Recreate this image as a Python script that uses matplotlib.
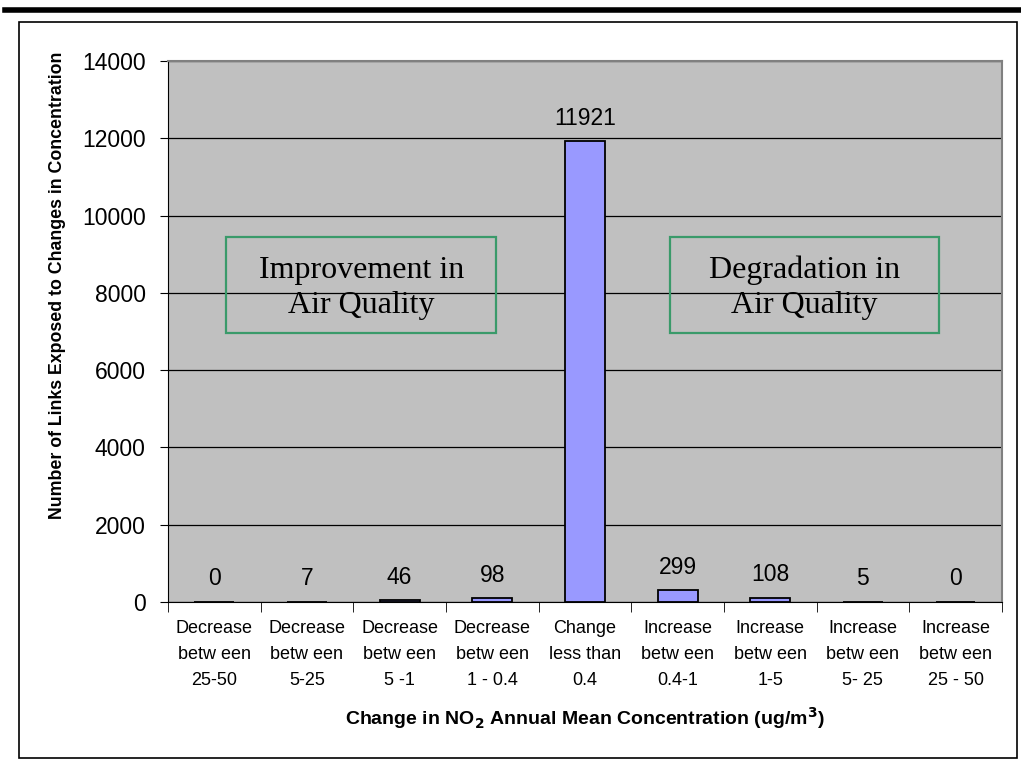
import matplotlib.pyplot as plt
from matplotlib.patches import Rectangle
from matplotlib.lines import Line2D
import numpy as np

categories = [
    "Decrease\nbetw een\n25-50",
    "Decrease\nbetw een\n5-25",
    "Decrease\nbetw een\n5 -1",
    "Decrease\nbetw een\n1 - 0.4",
    "Change\nless than\n0.4",
    "Increase\nbetw een\n0.4-1",
    "Increase\nbetw een\n1-5",
    "Increase\nbetw een\n5- 25",
    "Increase\nbetw een\n25 - 50",
]
links = [0, 7, 46, 98, 11921, 299, 108, 5, 0]
yticks = [0, 2000, 4000, 6000, 8000, 10000, 12000, 14000]

plt.rcParams['font.family'] = ['Liberation Sans', 'DejaVu Sans']

fig = plt.figure(figsize=(10.21, 7.62), dpi=100)
ax = fig.add_axes([0.1645, 0.21, 0.8168, 0.71])
ax.set_facecolor('#C0C0C0')

x = np.arange(len(categories))
ax.bar(x, links, width=0.43, color='#9999FF', edgecolor='black', linewidth=1.3, zorder=3)
for xi, v in zip(x, links):
    ax.text(xi, v + 300, str(v), ha='center', va='bottom', fontsize=16.5, zorder=4)

ax.set_xlim(-0.5, len(categories) - 0.5)
ax.set_ylim(0, 14000)
ax.set_yticks(yticks)
ax.set_yticklabels([str(t) for t in yticks], fontsize=16.5)
ax.yaxis.grid(True, color='black', linewidth=0.9, zorder=1)
ax.set_axisbelow(True)

# category labels centred, tick marks on the boundaries
ax.set_xticks(x)
ax.set_xticklabels(categories, fontsize=13, linespacing=1.68)
ax.tick_params(axis='x', length=0, pad=13)
ax.set_xticks(np.arange(-0.5, len(categories)), minor=True)
ax.tick_params(axis='x', which='minor', length=7, color='black', direction='out')
ax.tick_params(axis='y', length=6, direction='out', pad=10)

for s in ['top', 'right']:
    ax.spines[s].set_color('#808080')
    ax.spines[s].set_linewidth(1.5)
for s in ['left', 'bottom']:
    ax.spines[s].set_color('black')

ax.set_xlabel('Change in NO$_\\mathbf{2}$ Annual Mean Concentration (ug/m$^\\mathbf{3}$)',
              fontsize=14, fontweight='bold', labelpad=12)
ax.set_ylabel('Number of Links Exposed to Changes in Concentration',
              fontsize=12.8, fontweight='bold')
ax.yaxis.set_label_coords(-0.122, 0.586)

# annotation boxes
for x0, x1, txt in [(0.13, 3.04, 'Improvement in\nAir Quality'),
                    (4.92, 7.82, 'Degradation in\nAir Quality')]:
    ax.add_patch(Rectangle((x0, 6960), x1 - x0, 2485, fill=False,
                           edgecolor='#3A9A6A', linewidth=1.6, zorder=5))
    ax.text((x0 + x1) / 2, 8130, txt, ha='center', va='center', fontsize=23,
            family=['Liberation Serif', 'DejaVu Serif'], linespacing=1.25, zorder=5)

# outer frame and heavy rule at the top
fig.add_artist(Rectangle((19 / 1021, 1 - 758 / 762), 998 / 1021, 736 / 762,
                         transform=fig.transFigure, fill=False,
                         edgecolor='black', linewidth=1.2))
fig.add_artist(Line2D([5 / 1021, 1.0], [1 - 10 / 762, 1 - 10 / 762],
                      transform=fig.transFigure, color='black', linewidth=4))

fig.savefig('out.png', dpi=100)
